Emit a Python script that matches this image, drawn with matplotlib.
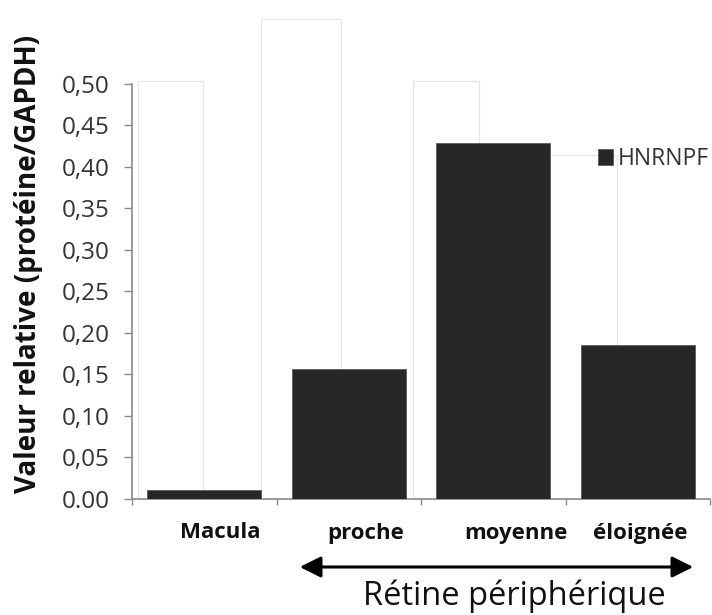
import matplotlib
matplotlib.use("Agg")
import matplotlib.pyplot as plt
from matplotlib.patches import Rectangle, FancyArrowPatch
from matplotlib.transforms import blended_transform_factory

categories = ["Macula", "proche", "moyenne", "éloignée"]
values = [0.010, 0.156, 0.429, 0.185]
series_name = "HNRNPF"
yticks = [0.00, 0.05, 0.10, 0.15, 0.20, 0.25, 0.30, 0.35, 0.40, 0.45, 0.50]
ytick_labels = ["0.00", "0,05", "0,10", "0,15", "0,20", "0,25", "0,30", "0,35", "0,40", "0,45", "0,50"]
ylabel = "Valeur relative (protéine/GAPDH)"
group_label = "Rétine périphérique"

# styling
label_offsets = [0.11, 0.12, 0.16, 0.02]
ghost_rects = [(-0.458, -0.009, 0.504), (0.393, 0.946, 0.578),
               (1.445, 1.901, 0.504), (2.30, 2.856, 0.414)]

plt.rcParams['font.family'] = ['Open Sans', 'DejaVu Sans']

fig = plt.figure(figsize=(7.12, 6.15), dpi=100)
W, H = 712, 615
ax = fig.add_axes([132 / W, 1 - 498.5 / H, (710 - 132) / W, (498.5 - 84) / H])

axis_col = "#8a8a8a"
# faint background artefact rectangles
for x0, x1, top in ghost_rects:
    ax.add_patch(Rectangle((x0, 0), x1 - x0, top, facecolor="white",
                           edgecolor="#e6e6e6", linewidth=0.9, zorder=1,
                           clip_on=False))

x = list(range(len(categories)))
bars = ax.bar(x, values, width=0.79, color="#262626", edgecolor="#5a5a5a",
              linewidth=0.6, zorder=3, label=series_name)

ax.set_xlim(-0.5, len(categories) - 0.5)
ax.set_ylim(0, 0.5)
ax.set_yticks(yticks)
ax.set_yticklabels(ytick_labels, fontsize=17.5, color="#333333")
ax.set_xticks([i - 0.5 for i in range(len(categories) + 1)])
ax.set_xticklabels([])
ax.tick_params(axis="y", direction="out", length=6, width=1, color=axis_col, pad=10)
ax.tick_params(axis="x", direction="out", length=4.5, width=1, color=axis_col)

for s in ["top", "right"]:
    ax.spines[s].set_visible(False)
for s in ["left", "bottom"]:
    ax.spines[s].set_color(axis_col)
    ax.spines[s].set_linewidth(1.2)
ax.set_facecolor("none")

# category labels
trans = blended_transform_factory(ax.transData, fig.transFigure)
for i, (c, off) in enumerate(zip(categories, label_offsets)):
    ax.text(i + off, 1 - 533 / H, c, transform=trans, ha="center", va="center",
            fontsize=16, fontweight="bold", color="#111111")

# y label
fig.text(29 / W, 1 - 264 / H, ylabel, rotation=90, ha="center", va="center",
         fontsize=20, fontweight="bold", color="#111111")

# double arrow and group label
fig.add_artist(FancyArrowPatch(
    (297 / W, 1 - 567 / H), (696 / W, 1 - 567 / H), transform=fig.transFigure,
    arrowstyle="<|-|>,head_length=8,head_width=4", color="black",
    linewidth=2.2, mutation_scale=1.6))
fig.text(514 / W, 1 - 596 / H, group_label, ha="center", va="center",
         fontsize=23.5, color="#111111")

# legend
fig.legend(handles=[bars], labels=[series_name], loc="center left",
           bbox_to_anchor=(598 / W, 1 - 159 / H), frameon=False,
           handlelength=0.65, handleheight=0.65, handletextpad=0.2,
           borderpad=0, borderaxespad=0, fontsize=16.5,
           labelcolor="#333333")

fig.savefig("out.png", dpi=100, facecolor="white")
